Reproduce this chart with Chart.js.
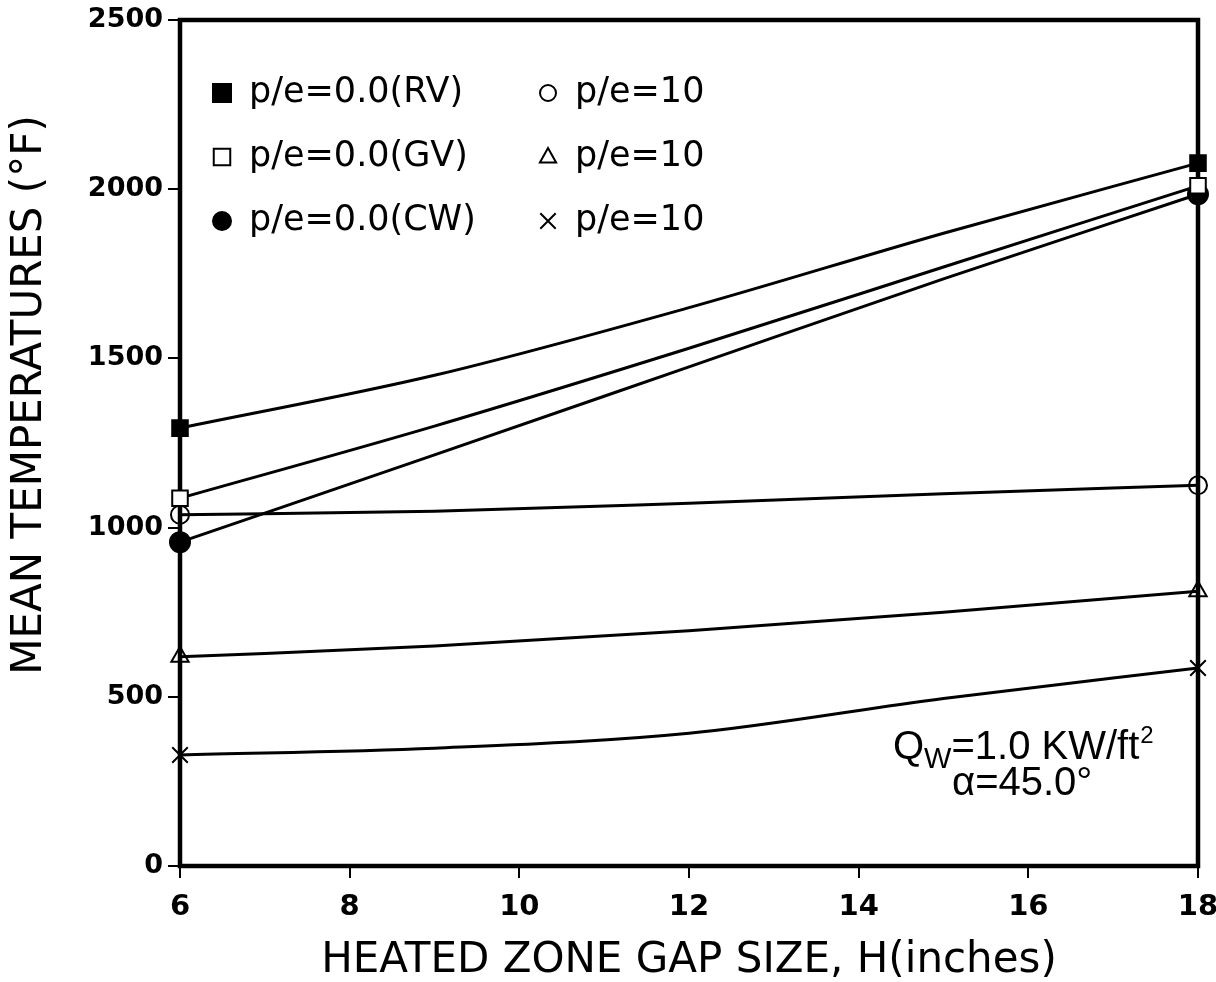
<!DOCTYPE html>
<html>
<head>
<meta charset="utf-8">
<script src="https://cdn.jsdelivr.net/npm/chart.js@4.4.1/dist/chart.umd.min.js"></script>
<style>
  html, body { margin: 0; padding: 0; background: #fff; }
  #wrap { width: 1216px; height: 982px; }
</style>
</head>
<body>
<div id="wrap"><canvas id="gapChart" width="1216" height="982"></canvas></div>
<script>
// gap size H (inches) and mean temperatures (F)
const gapSize = [6, 9, 12, 15, 18];
const rvTemps = [1294, 1450, 1650, 1870, 2077];
const gvTemps = [1087, 1300, 1530, 1770, 2010];
const cwTemps = [957, 1215, 1475, 1735, 1985];
const circleTemps = [1038, 1048, 1072, 1100, 1125];
const triangleTemps = [618, 650, 695, 750, 812];
const crossTemps = [328, 348, 392, 495, 585];

const seriesLabels = ['p/e=0.0(RV)', 'p/e=0.0(GV)', 'p/e=0.0(CW)', 'p/e=10', 'p/e=10', 'p/e=10'];
const xTicks = [6, 8, 10, 12, 14, 16, 18];
const yTicks = [0, 500, 1000, 1500, 2000, 2500];

function toPoints(ys) {
    return gapSize.map((x, i) => ({ x: x, y: ys[i] }));
}

// markers only at measured ends
function endRadius(r) {
    return ctx => (ctx.dataIndex === 0 || ctx.dataIndex === gapSize.length - 1) ? r : 0;
}

function series(label, ys, style, r, fill) {
    return {
        label: label,
        data: toPoints(ys),
        borderColor: '#000',
        borderWidth: 3,
        pointStyle: style,
        pointRadius: endRadius(r),
        pointBorderWidth: 2,
        pointBorderColor: '#000',
        pointBackgroundColor: fill,
        cubicInterpolationMode: 'monotone',
        clip: false
    };
}

const datasets = [
    series(seriesLabels[0], rvTemps, 'rect', 11, '#000'),
    series(seriesLabels[1], gvTemps, 'rect', 11, '#fff'),
    series(seriesLabels[2], cwTemps, 'circle', 10, '#000'),
    series(seriesLabels[3], circleTemps, 'circle', 9, 'rgba(255,255,255,0)'),
    series(seriesLabels[4], triangleTemps, 'triangle', 10, 'rgba(255,255,255,0)'),
    series(seriesLabels[5], crossTemps, 'crossRot', 11, '#000')
];

const frame = {
    id: 'frame',
    beforeDatasetsDraw(chart) {
        const a = chart.chartArea;
        const c = chart.ctx;
        c.save();
        c.strokeStyle = '#000';
        c.lineWidth = 4.5;
        c.strokeRect(a.left, a.top, a.right - a.left, a.bottom - a.top);
        // y axis title, sits a bit above the centre of the axis in the original
        c.translate(30, 395);
        c.rotate(-Math.PI / 2);
        c.font = '42px "DejaVu Sans"';
        c.fillStyle = '#000';
        c.textAlign = 'center';
        c.textBaseline = 'middle';
        c.fillText('MEAN TEMPERATURES (\u00b0F)', 0, 0);
        c.restore();
    }
};

function marker(c, style, fill, r, x, y) {
    c.save();
    c.strokeStyle = '#000';
    c.fillStyle = fill;
    c.lineWidth = 2;
    c.beginPath();
    if (style === 'rect') {
        c.rect(x - r * 0.75, y - r * 0.75, r * 1.5, r * 1.5);
        c.fill();
        c.stroke();
    } else if (style === 'circle') {
        c.arc(x, y, r, 0, Math.PI * 2);
        c.fill();
        c.stroke();
    } else if (style === 'triangle') {
        c.moveTo(x, y - r);
        c.lineTo(x + r * 0.9, y + r * 0.6);
        c.lineTo(x - r * 0.9, y + r * 0.6);
        c.closePath();
        c.stroke();
    } else {
        c.moveTo(x - r * 0.7, y - r * 0.7);
        c.lineTo(x + r * 0.7, y + r * 0.7);
        c.moveTo(x + r * 0.7, y - r * 0.7);
        c.lineTo(x - r * 0.7, y + r * 0.7);
        c.stroke();
    }
    c.restore();
}

const legendBox = {
    id: 'legendBox',
    afterDraw(chart) {
        const c = chart.ctx;
        const a = chart.chartArea;
        const ms = [
            ['rect', '#000', 12], ['rect', '#fff', 11], ['circle', '#000', 9],
            ['circle', '#fff', 8], ['triangle', '#fff', 9], ['crossRot', '#000', 11]
        ];
        c.save();
        c.font = '35px "DejaVu Sans"';
        c.fillStyle = '#000';
        c.textBaseline = 'middle';
        for (let i = 0; i < 6; i++) {
            const col = Math.floor(i / 3);
            const row = i % 3;
            const mx = a.left + 42 + col * 326;
            const my = a.top + 73 + row * 64;
            marker(c, ms[i][0], ms[i][1], ms[i][2], mx, my);
            c.fillText(chart.data.datasets[i].label, mx + 27, my);
        }

        // annotation
        c.font = '40px "Liberation Sans"';
        let x = 893, y = 748;
        c.fillText('Q', x, y);
        x += c.measureText('Q').width;
        c.font = '29px "Liberation Sans"';
        c.fillText('W', x, y + 12);
        x += c.measureText('W').width;
        c.font = '40px "Liberation Sans"';
        c.fillText('=1.0 KW/ft', x, y);
        x += c.measureText('=1.0 KW/ft').width;
        c.font = '24px "Liberation Sans"';
        c.fillText('2', x + 1, y - 12);
        c.font = '40px "Liberation Sans"';
        c.fillText('\u03b1=45.0\u00b0', 952, y + 36);
        c.restore();
    }
};

new Chart(document.getElementById('gapChart'), {
    type: 'line',
    data: { datasets: datasets },
    options: {
        responsive: false,
        animation: false,
        events: [],
        layout: { padding: { top: 20, right: 18, left: 0, bottom: 0 } },
        plugins: { legend: { display: false }, tooltip: { enabled: false } },
        scales: {
            x: {
                type: 'linear',
                min: xTicks[0],
                max: xTicks[xTicks.length - 1],
                afterFit: s => { s.height = 116; s.paddingLeft = 0; s.paddingRight = 0; },
                afterBuildTicks: s => { s.ticks = xTicks.map(v => ({ value: v })); },
                grid: { drawOnChartArea: false, drawTicks: true, tickLength: 12, color: '#000', lineWidth: 2 },
                border: { display: false },
                ticks: {
                    color: '#000', padding: 12,
                    font: { family: 'DejaVu Sans', size: 29, weight: 'bold' },
                    callback: v => String(v)
                },
                title: {
                    display: true,
                    text: 'HEATED ZONE GAP SIZE, H(inches)',
                    color: '#000',
                    font: { family: 'DejaVu Sans', size: 42, weight: 'normal', lineHeight: 1 },
                    padding: { top: 3, bottom: 0 }
                }
            },
            y: {
                min: yTicks[0],
                max: yTicks[yTicks.length - 1],
                afterFit: s => { s.width = 180; s.paddingTop = 0; s.paddingBottom = 0; },
                afterBuildTicks: s => { s.ticks = yTicks.map(v => ({ value: v })); },
                grid: { drawOnChartArea: false, drawTicks: true, tickLength: 12, color: '#000', lineWidth: 2 },
                border: { display: false },
                ticks: {
                    color: '#000', padding: 5,
                    font: { family: 'DejaVu Sans', size: 27, weight: 'bold' },
                    callback: v => String(v)
                },
                title: { display: false }
            }
        }
    },
    plugins: [frame, legendBox]
});
</script>
</body>
</html>
